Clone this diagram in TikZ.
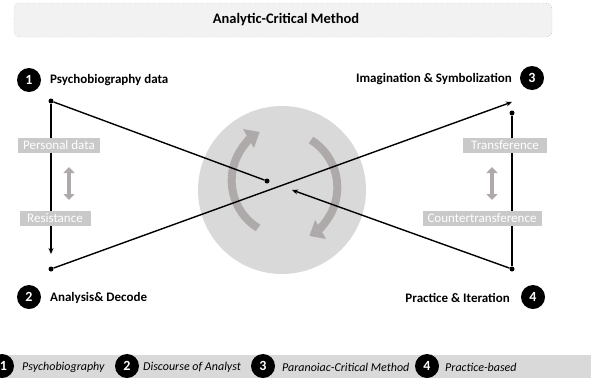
\documentclass[tikz,border=0pt]{standalone}
\usepackage{fontspec}
\setmainfont{Carlito}
\usetikzlibrary{arrows.meta}
\definecolor{circgray}{HTML}{D9D9D9}
\definecolor{arcgray}{HTML}{AEAAAA}
\definecolor{boxgray}{HTML}{C9C9C9}
\definecolor{titlefill}{HTML}{F2F2F2}
\tikzset{
  badge/.style={circle,fill=black,text=white,minimum size=24pt,inner sep=0pt,font=\fontsize{14}{14}\selectfont\bfseries},
  steplabel/.style={font=\fontsize{13}{15}\selectfont\bfseries,inner sep=0pt},
  graybox/.style={fill=boxgray,text=white,font=\fontsize{13}{15}\selectfont,inner sep=0pt,minimum height=15pt},
  legend/.style={font=\fontsize{12}{14}\selectfont\itshape,anchor=west,inner sep=0pt},
  dot/.style={circle,fill=black,minimum size=5pt,inner sep=0pt},
  conn/.style={line width=1.4pt,black},
  tip/.style={-{Stealth[length=6pt,width=5pt]}},
  bigarc/.style={arcgray,line width=8pt,-{Triangle[length=13pt,width=21pt]}},
  dblarrow/.style={arcgray,line width=4pt,{Triangle[length=6pt,width=11pt]}-{Triangle[length=6pt,width=11pt]}}
}
\begin{document}
\begin{tikzpicture}[x=1pt,y=-1pt]
\useasboundingbox (0,0) rectangle (591,378);
% title
\node[draw=gray,dotted,fill=titlefill,rounded corners=6pt,minimum width=538pt,minimum height=34pt,inner sep=0pt] (title) at (283,20) {};
\node[font=\fontsize{14.5}{16}\selectfont\bfseries] (titletext) at (286,20) {Analytic-Critical Method};
% central circle
\node[circle,fill=circgray,minimum size=168pt,inner sep=0pt] (cc) at (282,190) {};
\draw[bigarc] (258,228) arc[start angle=122,end angle=240,radius=56];
\draw[bigarc] (311,140) arc[start angle=-58,end angle=60,radius=56];
% points
\node[dot] (p1) at (51,101) {};
\node[dot] (p2) at (51,269) {};
\node[dot] (p3) at (512,113) {};
\node[dot] (p4) at (512,269) {};
\node[dot] (pc) at (267,181) {};
\coordinate (p2end) at (51,254);
\coordinate (p3end) at (512,102);
\coordinate (pcend) at (292,190);
% connectors
\draw[conn,tip] (p1) -- (p2end);
\draw[conn] (p1) -- (pc);
\draw[conn,tip] (p2) -- (p3end);
\draw[conn] (p3) -- (p4);
\draw[conn,tip] (p4) -- (pcend);
% gray boxes
\node[graybox,minimum width=82pt] (pd) at (59,145) {Personal data};
\node[graybox,minimum width=71pt] (rs) at (55,218) {Resistance};
\node[graybox,minimum width=84pt] (tf) at (505,145) {Transference};
\node[graybox,minimum width=119pt] (ct) at (482,218) {Countertransference};
\coordinate (dl1) at (69,167);
\coordinate (dl2) at (69,200);
\coordinate (dr1) at (492,167);
\coordinate (dr2) at (492,200);
\draw[dblarrow] (dl1) -- (dl2);
\draw[dblarrow] (dr1) -- (dr2);
% badges and labels
\node[badge] (b1) at (29,80) {1};
\node[steplabel,anchor=west] (l1) at (50,80) {Psychobiography data};
\node[badge] (b2) at (29,297) {2};
\node[steplabel,anchor=west] (l2) at (50,298) {Analysis\& Decode};
\node[badge] (b3) at (532,78) {3};
\node[steplabel,anchor=east] (l3) at (512,79) {Imagination \& Symbolization};
\node[badge] (b4) at (533,297) {4};
\node[steplabel,anchor=east] (l4) at (510,298) {Practice \& Iteration};
% legend bar
\fill[circgray] (0,355) rectangle (591,378);
\node[badge] (lb1) at (2,366) {\hspace*{3pt}1};
\node[legend] (lt1) at (22,367) {Psychobiography};
\node[badge] (lb2) at (127,366) {2};
\node[legend] (lt2) at (143,367) {Discourse of Analyst};
\node[badge] (lb3) at (263,366) {3};
\node[legend] (lt3) at (282,367) {Paranoiac-Critical Method};
\node[badge] (lb4) at (427,366) {4};
\node[legend] (lt4) at (445,367) {Practice-based};
\end{tikzpicture}
\end{document}
